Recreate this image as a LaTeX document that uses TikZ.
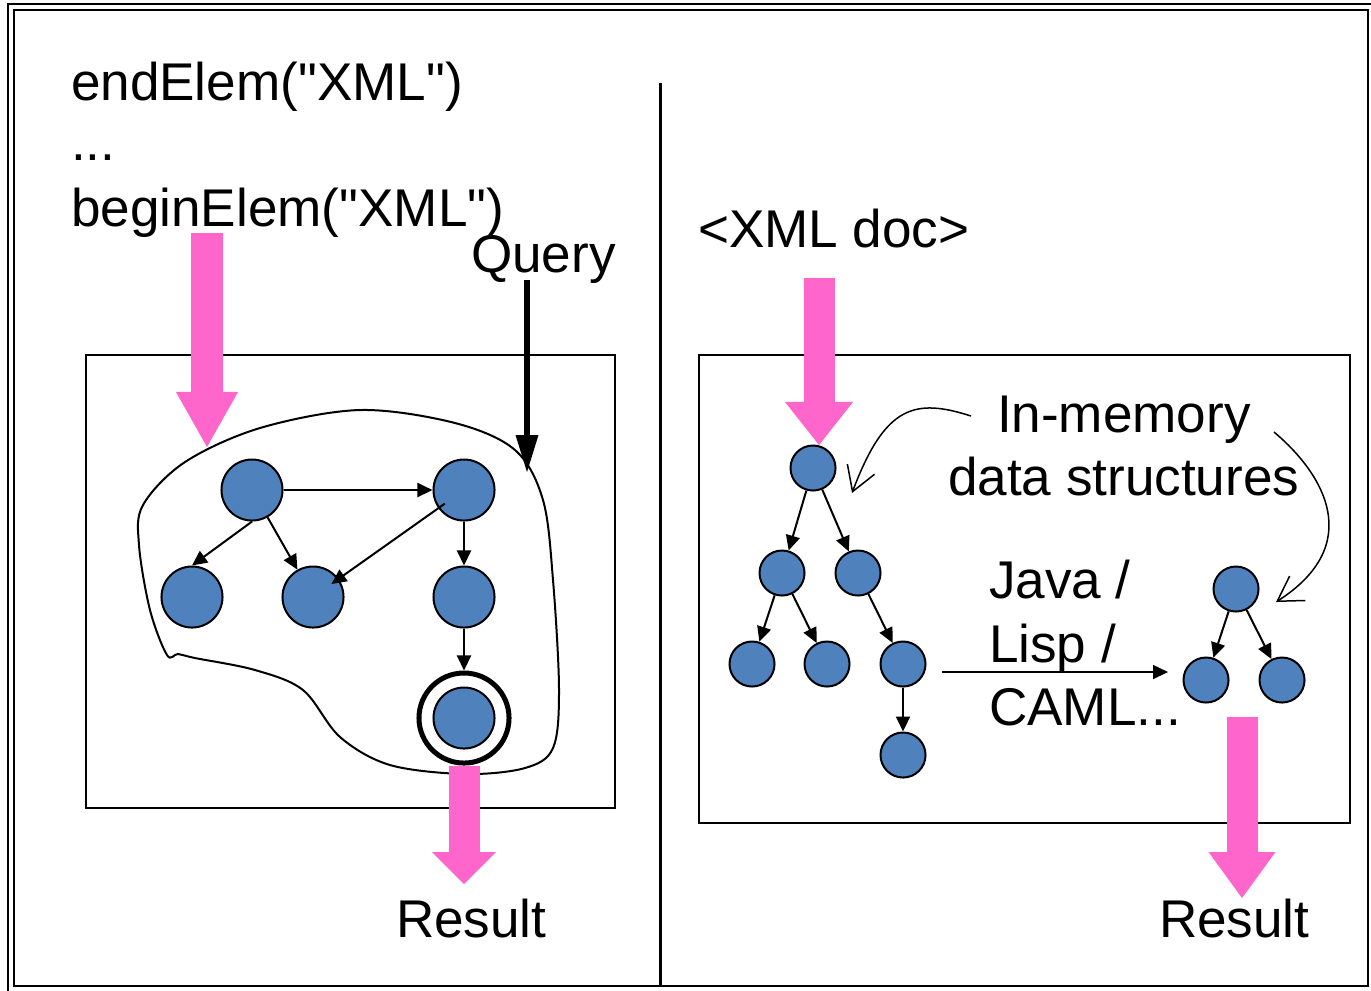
\documentclass[tikz,border=0pt]{standalone}
\usepackage{fontspec}
\setmainfont{Liberation Sans}[Ligatures=TeXOff]
\usetikzlibrary{arrows.meta, calc}
\definecolor{nodeblue}{HTML}{4F81BD}
\definecolor{flowpink}{HTML}{FF66CC}
\tikzset{
  every picture/.style={line width=0.02cm},
  vert/.style={draw, circle, fill=nodeblue, minimum size=0.61cm, inner sep=0cm},
  svert/.style={vert, minimum size=0.45cm},
  ring/.style={draw, circle, line width=0.05cm, minimum size=0.9cm, inner sep=0cm},
  txt/.style={anchor=base west, inner sep=0cm, font=\fontsize{15.1pt}{18pt}\selectfont},
  frame/.style={line width=0.025cm},
  flow/.style n args={2}{draw=flowpink, line width=0.31cm,
    -{Triangle[width=#1, length=#2, line width=0pt]}},
  query/.style={line width=0.06cm, -{Triangle[width=0.23cm, length=0.37cm, line width=0pt]}},
  bent/.style={line width=0.015cm, -{Straight Barb[length=0.24cm, width=0.29cm]}}
}

\begin{document}
\begin{tikzpicture}[x=0.01cm, y=-0.01cm, >={Triangle[length=0.15cm, width=0.14cm]}]
    \useasboundingbox (0,0) rectangle (1371,990);
    \clip (0,0) rectangle (1371,990);

    \draw[frame] (8,4) rectangle (1380,1000);
    \draw[frame] (14,10) rectangle (1368,986);
    \draw[line width=0.03cm] (660,83) -- (660,986);

    % left half
    \node [txt] (end) at (70,100) {endElem("XML")};
    \node [txt] (dots) at (70,160) {...};
    \node [txt] (begin) at (70,226) {beginElem("XML")};
    \node [txt] (query) at (470,272) {Query};
    \node [txt] (res1) at (395,937) {Result};

    \draw (86,355) rectangle (615,808);
    \draw plot[smooth cycle, tension=0.55] coordinates {
      (167,655) (150,610) (139,545) (143,505) (185,462) (260,428) (360,410)
      (455,423) (515,450) (543,500) (553,580) (559,690) (553,748) (525,768)
      (465,774) (390,765) (340,737) (303,690) (255,670) (195,658) (178,654)};

    \node [vert] (A) at (252,490) {};
    \node [vert] (B) at (464,490) {};
    \node [vert] (C) at (192,597) {};
    \node [vert] (D) at (313,597) {};
    \node [vert] (E) at (464,597) {};
    \node [vert] (F) at (464,718) {};
    \node [ring] (Fr) at (F) {};

    \draw(A) edge[->] (B);
    \draw(A.south) edge[->] (C.north);
    \draw(A) edge[->] (D);
    \draw(B) edge[->, shorten <=-0.08cm, shorten >=-0.09cm] (D);
    \draw(B) edge[->] (E);
    \draw(E) edge[->] (Fr);

    \coordinate (inL) at (207,233);
    \coordinate (inLtip) at (207,447);
    \coordinate (qL) at (527,280);
    \coordinate (qLtip) at (527,472);
    \coordinate (outL) at (464,884);
    \draw[flow={0.62cm}{0.55cm}] (inL) -- (inLtip);
    \draw[query] (qL) -- (qLtip);
    \draw[flow={0.64cm}{0.32cm}] (Fr.south) -- (outL);

    % right half
    \node [txt] (doc) at (697,247) {<XML doc>};
    \node [txt] (mem) at (996,432) {In-memory};
    \node [txt] (data) at (947,495) {data structures};
    \node [txt] (java) at (988,598) {Java /};
    \node [txt] (lisp) at (988,662) {Lisp /};
    \node [txt] (caml) at (988,725) {CAML...};
    \node [txt] (res2) at (1158,937) {Result};

    \draw (699,355) rectangle (1350,823);

    \node [svert] (R) at (813,468) {};
    \node [svert] (R1) at (782,573) {};
    \node [svert] (R2) at (858,573) {};
    \node [svert] (L1) at (752,664) {};
    \node [svert] (L2) at (827,664) {};
    \node [svert] (L3) at (903,664) {};
    \node [svert] (L4) at (903,755) {};
    \node [svert] (T) at (1236,589) {};
    \node [svert] (T1) at (1206,680) {};
    \node [svert] (T2) at (1282,680) {};

    \draw(R) edge[->] (R1);
    \draw(R) edge[->] (R2);
    \draw(R1) edge[->] (L1);
    \draw(R1) edge[->] (L2);
    \draw(R2) edge[->] (L3);
    \draw(L3) edge[->] (L4);
    \draw(T) edge[->] (T1);
    \draw(T) edge[->] (T2);

    \coordinate (conv) at (942,672);
    \coordinate (convtip) at (1168,672);
    \draw[line width=0.015cm, ->] (conv) -- (convtip);

    \coordinate (memL) at (971,416);
    \coordinate (memLtip) at (852,493);
    \coordinate (memR) at (1274,432);
    \coordinate (memRtip) at (1276,602);
    \draw[bent] (memL) .. controls (915,398) and (885,405) .. (memLtip);
    \draw[bent] (memR) .. controls (1325,475) and (1365,545) .. (memRtip);

    \coordinate (inR) at (819,278);
    \coordinate (inRtip) at (819,445);
    \coordinate (outR) at (1242,717);
    \coordinate (outRtip) at (1242,898);
    \draw[flow={0.68cm}{0.43cm}] (inR) -- (inRtip);
    \draw[flow={0.67cm}{0.46cm}] (outR) -- (outRtip);
\end{tikzpicture}
\end{document}
